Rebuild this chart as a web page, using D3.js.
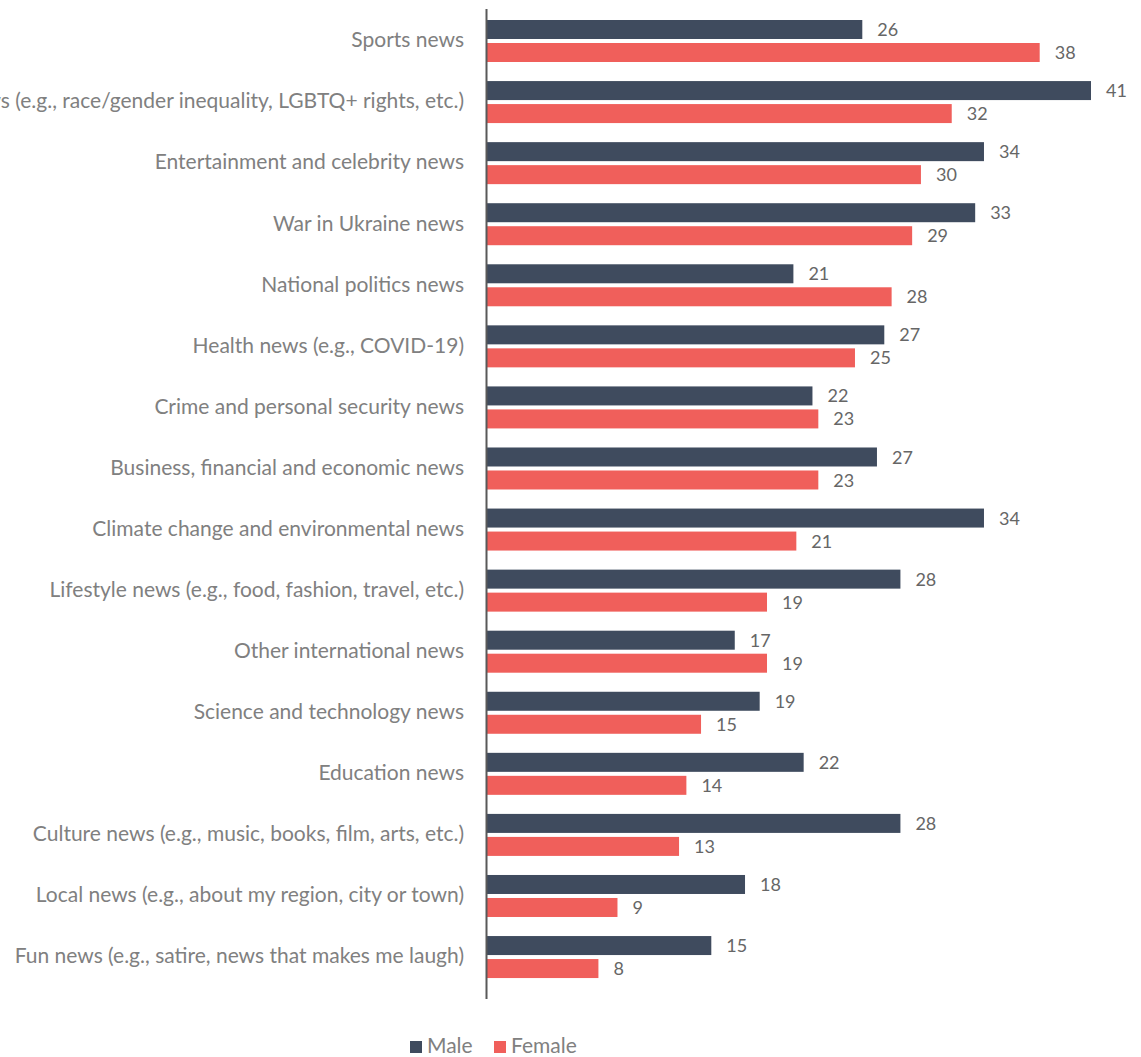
<!DOCTYPE html>
<html><head><meta charset="utf-8">
<script src="https://cdn.jsdelivr.net/npm/d3@7"></script>
<style>html,body{margin:0;padding:0;background:#fff;overflow:hidden}</style>
</head><body>
<svg id="chart" width="1141" height="1057"></svg>
<script>
const categories = [
  "Sports news",
  "Social justice news (e.g., race/gender inequality, LGBTQ+ rights, etc.)",
  "Entertainment and celebrity news",
  "War in Ukraine news",
  "National politics news",
  "Health news (e.g., COVID-19)",
  "Crime and personal security news",
  "Business, financial and economic news",
  "Climate change and environmental news",
  "Lifestyle news (e.g., food, fashion, travel, etc.)",
  "Other international news",
  "Science and technology news",
  "Education news",
  "Culture news (e.g., music, books, film, arts, etc.)",
  "Local news (e.g., about my region, city or town)",
  "Fun news (e.g., satire, news that makes me laugh)"
];
// values; labels show them rounded
const male   = [25.6, 41.2, 33.9, 33.3, 20.9, 27.1, 22.2, 26.6, 33.9, 28.2, 16.9, 18.6, 21.6, 28.2, 17.6, 15.3];
const female = [37.7, 31.7, 29.6, 29.0, 27.6, 25.1, 22.6, 22.6, 21.1, 19.1, 19.1, 14.6, 13.6, 13.1, 8.9, 7.6];
const seriesNames = ["Male", "Female"];
const colors = ["#3f4b5e", "#f05f5b"];

const svg = d3.select("#chart");
const font = "Lato, 'Open Sans', sans-serif";
const fmt = d3.format(".0f");

const x = d3.scaleLinear().domain([0, 41.2]).range([487, 1091]);
const step = 61.07, top0 = 20, barH = 19, gap = 4;
const yg = d3.scaleLinear().domain([0, categories.length - 1]).range([top0, top0 + step * (categories.length - 1)]);

const data = categories.map((c, i) => ({c, i, vals: [male[i], female[i]]}));

const groups = svg.append("g").selectAll("g.grp").data(data).enter().append("g")
  .attr("transform", d => `translate(0,${yg(d.i)})`);

groups.selectAll("rect").data(d => d.vals.map((v, s) => ({v, s}))).enter().append("rect")
  .attr("x", x(0))
  .attr("y", d => d.s * (barH + gap))
  .attr("width", d => x(d.v) - x(0))
  .attr("height", barH)
  .attr("fill", d => colors[d.s]);

groups.selectAll("text.val").data(d => d.vals.map((v, s) => ({v, s}))).enter().append("text")
  .attr("class", "val")
  .attr("x", d => x(d.v) + 15)
  .attr("y", d => d.s * (barH + gap) + barH / 2 + 2)
  .attr("dominant-baseline", "middle")
  .attr("font-family", font)
  .attr("font-size", 18)
  .attr("fill", "#666666")
  .text(d => fmt(d.v));

groups.append("text")
  .attr("x", 464)
  .attr("y", barH + gap / 2 + 1)
  .attr("dominant-baseline", "middle")
  .attr("text-anchor", "end")
  .attr("font-family", font)
  .attr("font-size", 21)
  .attr("fill", "#808080")
  .text(d => d.c);

// axis line
svg.append("line")
  .attr("x1", 486.5).attr("x2", 486.5)
  .attr("y1", 9).attr("y2", 999)
  .attr("stroke", "#595959").attr("stroke-width", 2);

// legend
const legend = svg.append("g").attr("transform", "translate(0,1047)");
const lx = [410, 494];
seriesNames.forEach((n, s) => {
  legend.append("rect").attr("x", lx[s]).attr("y", -6).attr("width", 12).attr("height", 12).attr("fill", colors[s]);
  legend.append("text").attr("x", lx[s] + 17).attr("y", 1).attr("dominant-baseline", "middle")
    .attr("font-family", font).attr("font-size", 21).attr("fill", "#808080").text(n);
});
</script>
</body></html>
